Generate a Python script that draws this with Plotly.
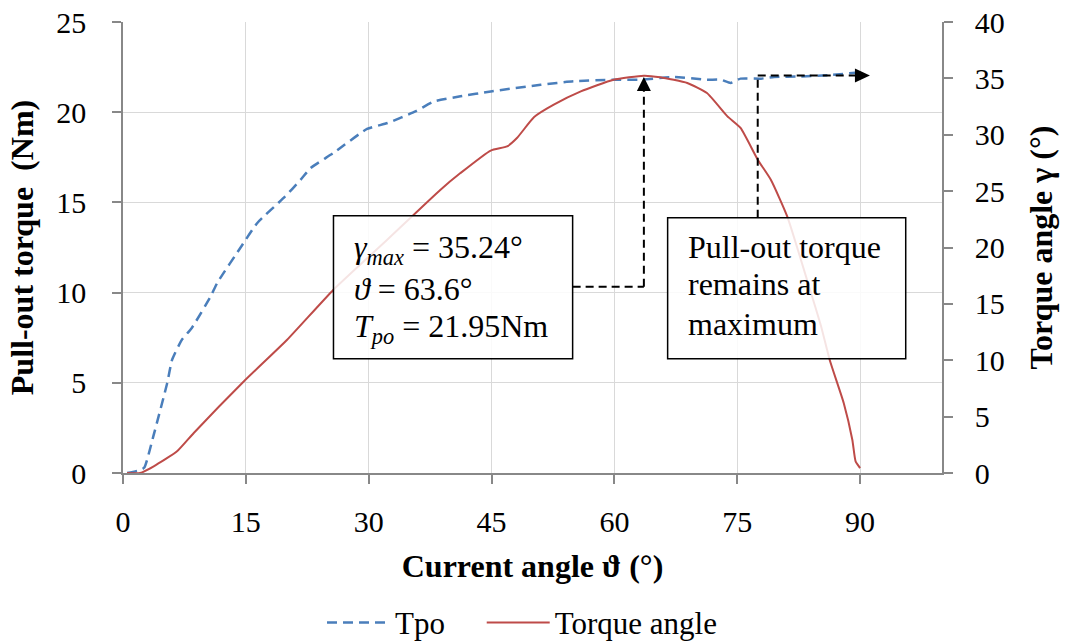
import plotly.graph_objects as go

# Current angle (deg) and pull-out torque (Nm)
theta_tpo = [0.5, 2.0, 2.6, 3.7, 5.4, 6.0, 7.2, 8.4, 10.7, 11.5, 14.5, 16.4, 19.8,
             21.7, 22.9, 25.7, 29.8, 32.3, 35.7, 38.0, 41.2, 44.9, 51.0, 55.0,
             59.9, 63.2, 67.3, 71.3, 73.0, 74.2, 75.4, 77.9, 79.5, 82.7, 86.0, 89.8]
tpo = [0.0, 0.15, 0.3, 2.03, 4.99, 6.28, 7.39, 8.04, 9.79, 10.53, 12.6, 13.86, 15.33,
       16.26, 16.9, 17.74, 19.07, 19.4, 20.04, 20.6, 20.88, 21.15, 21.52, 21.71,
       21.8, 21.8, 21.95, 21.8, 21.8, 21.62, 21.86, 21.86, 21.95, 21.98, 22.05, 22.2]

# Current angle (deg) and torque angle gamma (deg)
theta_ta = [0.5, 2.1, 3.75, 6.6, 8.64, 14.74, 20.04, 25.7, 32.26, 38.77, 41.2, 44.9,
            46.9, 48.1, 50.2, 52.6, 55.9, 59.9, 63.6, 65.6, 68.9, 71.3, 73.8, 75.4,
            77.5, 79.1, 81.1, 83.7, 85.2, 86.3, 88.0, 89.05, 89.45, 90.0]
torque_angle = [0.0, 0.0, 0.59, 1.92, 3.55, 8.12, 11.82, 16.26, 20.69, 25.13, 26.6, 28.6,
                28.97, 29.71, 31.57, 32.67, 33.84, 34.88, 35.24, 35.1, 34.59, 33.7, 31.63, 30.6,
                27.79, 26.01, 22.76, 16.7, 13.1, 10.0, 6.21, 2.95, 1.03, 0.44]

# Operating point at maximum torque angle
gamma_max = 35.24
theta_at_max = 63.6
tpo_at_max = 21.95

x_ticks = [0, 15, 30, 45, 60, 75, 90]

FONT = "Liberation Serif, Times New Roman, serif"
GRID = "#D9D9D9"
AXIS = "#888888"
BLUE = "#4A7EBB"
RED = "#BE4B48"

fig = go.Figure()
fig.add_trace(go.Scatter(
    x=theta_tpo, y=tpo, name="Tpo", mode="lines", legend="legend",
    line=dict(color=BLUE, width=2.5, dash="10px,6px", shape="spline", smoothing=0.5),
))
fig.add_trace(go.Scatter(
    x=theta_ta, y=torque_angle, name="Torque angle", mode="lines", yaxis="y2",
    legend="legend2",
    line=dict(color=RED, width=2, shape="spline", smoothing=0.5),
))

dash_line = dict(color="black", width=2, dash="8px,5px")
box_line = dict(color="black", width=1.5)
box_fill = "rgba(255,255,255,0.85)"

shapes = [
    # text boxes
    dict(type="rect", xref="x", yref="y", x0=25.7, x1=54.9, y0=6.34, y1=14.26,
         line=box_line, fillcolor=box_fill, layer="above"),
    dict(type="rect", xref="x", yref="y", x0=66.5, x1=95.57, y0=6.34, y1=14.15,
         line=box_line, fillcolor=box_fill, layer="above"),
    # leader from the first box to the maximum point
    dict(type="line", xref="x", yref="y", x0=54.9, x1=theta_at_max, y0=10.33, y1=10.33,
         line=dash_line, layer="above"),
    dict(type="line", xref="x", yref="y", x0=theta_at_max, x1=theta_at_max, y0=10.33,
         y1=tpo_at_max - 0.72, line=dash_line, layer="above"),
    dict(type="path", xref="x", yref="y", xsizemode="pixel", ysizemode="pixel",
         xanchor=theta_at_max, yanchor=tpo_at_max, path="M0,0 L-7,-14 L7,-14 Z",
         fillcolor="black", line=dict(width=0), layer="above"),
    # leader from the second box along the maximum
    dict(type="line", xref="x", yref="y", x0=77.5, x1=77.5, y0=14.15, y1=22.04,
         line=dash_line, layer="above"),
    dict(type="line", xref="x", yref="y", x0=77.5, x1=89.4, y0=22.04, y1=22.04,
         line=dash_line, layer="above"),
    dict(type="path", xref="x", yref="y", xsizemode="pixel", ysizemode="pixel",
         xanchor=91.2, yanchor=22.04, path="M0,0 L-15,7 L-15,-7 Z",
         fillcolor="black", line=dict(width=0), layer="above"),
]

box1_lines = [
    (f"<i>γ<sub>max</sub></i> = {gamma_max}°", 12.40),
    (f"<i>ϑ</i> = {theta_at_max}°", 10.21),
    (f"<i>T<sub>po</sub></i> = {tpo_at_max}Nm", 8.00),
]
box2_lines = [
    ("Pull-out torque", 12.54),
    ("remains at", 10.49),
    ("maximum", 8.27),
]

annotations = []
for text, yv in box1_lines:
    annotations.append(dict(xref="x", yref="y", x=27.9, y=yv, xanchor="left",
                            yanchor="middle", showarrow=False, text=text,
                            font=dict(family=FONT, size=32, color="black")))
for text, yv in box2_lines:
    annotations.append(dict(xref="x", yref="y", x=68.8, y=yv, xanchor="left",
                            yanchor="middle", showarrow=False, text=text,
                            font=dict(family=FONT, size=32, color="black")))

legend_style = dict(orientation="h", y=-0.332, yanchor="middle", xanchor="left",
                    font=dict(family=FONT, size=31), itemwidth=63,
                    bgcolor="rgba(0,0,0,0)")

fig.update_layout(
    width=1070, height=644,
    margin=dict(l=123, r=128, t=22, b=171, autoexpand=False),
    paper_bgcolor="white", plot_bgcolor="white",
    font=dict(family=FONT, size=30, color="black"),
    showlegend=True,
    legend=dict(legend_style, x=0.243),
    legend2=dict(legend_style, x=0.438),
    xaxis=dict(
        range=[0, 100], tickvals=x_ticks, showgrid=True, gridcolor=GRID, gridwidth=1.3,
        showline=True, linecolor=AXIS, linewidth=1.5, ticks="outside", ticklen=9,
        tickcolor=AXIS, tickwidth=1.5, ticklabelstandoff=12, zeroline=False,
        automargin=False,
        title=dict(text="<b>Current angle ϑ (°)</b>", font=dict(size=32), standoff=18),
    ),
    yaxis=dict(
        range=[0, 25], dtick=5, showgrid=True, gridcolor=GRID, gridwidth=1.3,
        showline=True, linecolor=AXIS, linewidth=1.5, ticks="outside", ticklen=9,
        tickcolor=AXIS, tickwidth=1.5, ticklabelstandoff=20, zeroline=False,
        automargin=False,
        title=dict(text="<b>Pull-out torque\u00a0 (Nm)</b>", font=dict(size=32), standoff=13),
    ),
    yaxis2=dict(
        range=[0, 40], dtick=5, overlaying="y", side="right", showgrid=False,
        showline=True, linecolor=AXIS, linewidth=1.5, ticks="outside", ticklen=9,
        tickcolor=AXIS, tickwidth=1.5, ticklabelstandoff=16, zeroline=False,
        automargin=False,
        title=dict(text="<b>Torque angle γ (°)</b>", font=dict(size=32), standoff=26),
    ),
    shapes=shapes,
    annotations=annotations,
)

fig.write_html("out.html")
